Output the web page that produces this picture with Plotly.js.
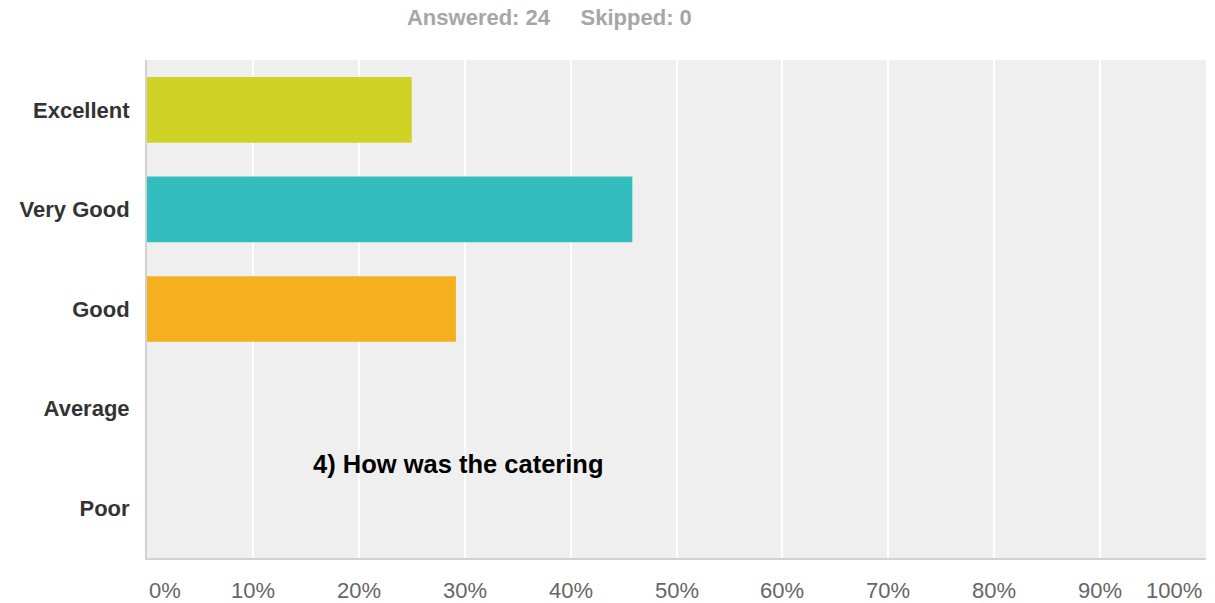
<!DOCTYPE html>
<html>
<head>
<meta charset="utf-8">
<script src="https://cdn.plot.ly/plotly-3.0.1.min.js"></script>
<style>html,body{margin:0;padding:0;background:#fff;}#chart{width:1215px;height:603px;}</style>
</head>
<body>
<div id="chart"></div>
<script>
const categories = ["Excellent", "Very Good", "Good", "Average", "Poor"];
const percentages = [25.00, 45.83, 29.17, 0, 0];
const barColors = ["#d0d325", "#32bebf", "#f6af1e", "#9d7bbb", "#e0545a"];
const tickValues = [0, 10, 20, 30, 40, 50, 60, 70, 80, 90, 100];
const tickLabels = ["0%", "10%", "20%", "30%", "40%", "50%", "60%", "70%", "80%", "90%", "100%"];
const summaryText = "Answered: 24\u00a0\u00a0\u00a0\u00a0\u00a0Skipped: 0";
const noteText = "4) How was the catering";

const tickAnnotations = tickValues.map((v, i) => ({
  x: v, xref: "x", y: 0, yref: "paper",
  yanchor: "middle", yshift: -32,
  xanchor: i === 0 ? "left" : (i === tickValues.length - 1 ? "right" : "center"),
  xshift: i === tickValues.length - 1 ? -2 : 0,
  text: tickLabels[i], showarrow: false,
  font: {family: "Liberation Sans, Arial, sans-serif", size: 22, color: "#666"}
}));

const data = [{
  type: "bar", orientation: "h",
  y: categories, x: percentages,
  marker: {color: barColors, line: {width: 0}},
  width: 0.66,
  hoverinfo: "x+y"
}];

const layout = {
  width: 1215, height: 603,
  margin: {l: 147, r: 9, t: 60, b: 45, pad: 0},
  paper_bgcolor: "#ffffff",
  plot_bgcolor: "#efefef",
  showlegend: false,
  title: {
    text: summaryText,
    x: 0.38, xanchor: "center", xref: "paper",
    y: 0.972, yanchor: "middle", yref: "container",
    font: {family: "Liberation Sans, Arial, sans-serif", size: 22, color: "#a6a6a6", weight: "bold"}
  },
  xaxis: {
    range: [0, 100], tickvals: tickValues, showticklabels: false,
    showgrid: true, gridcolor: "#ffffff", gridwidth: 2,
    zeroline: false, showline: true, linecolor: "#d2d2d2", linewidth: 2,
    fixedrange: true
  },
  yaxis: {
    type: "category", categoryorder: "array", categoryarray: categories,
    range: [4.5, -0.5],
    showgrid: false, zeroline: false,
    showline: true, linecolor: "#d2d2d2", linewidth: 2,
    ticks: "", ticklabelstandoff: 11,
    tickfont: {family: "Liberation Sans, Arial, sans-serif", size: 22, color: "#333", weight: "bold"},
    fixedrange: true
  },
  annotations: tickAnnotations.concat([{
    x: 0.294, xref: "paper", y: 0.189, yref: "paper",
    xanchor: "center", yanchor: "middle",
    text: "<b>" + noteText + "</b>", showarrow: false,
    font: {family: "Liberation Sans, Arial, sans-serif", size: 25.5, color: "#000"}
  }])
};

Plotly.newPlot("chart", data, layout, {displayModeBar: false, staticPlot: true});
</script>
</body>
</html>
